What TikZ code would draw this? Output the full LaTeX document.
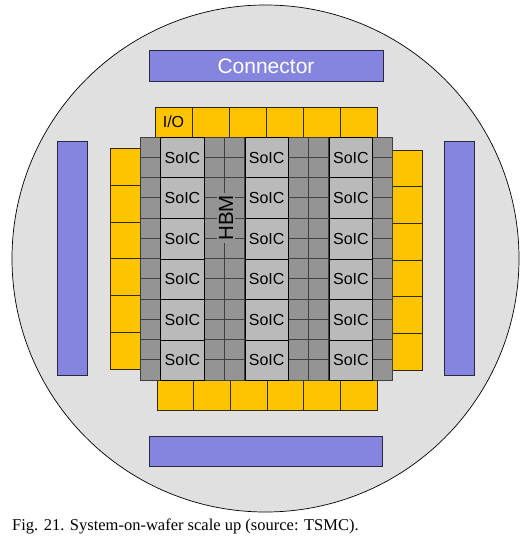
\documentclass[tikz,border=0pt]{standalone}
\usepackage{fontspec}
\setmainfont{Liberation Serif}
\newfontfamily\labelfont{Liberation Sans}
\usetikzlibrary{positioning}
\definecolor{waferbg}{RGB}{224,224,224}
\definecolor{barblue}{RGB}{133,133,224}
\definecolor{iogold}{RGB}{255,196,0}
\definecolor{hbmgray}{RGB}{148,148,148}
\definecolor{soicgray}{RGB}{186,186,186}

\begin{document}
\begin{tikzpicture}[x=1pt, y=-1pt,
    bar/.style={draw=black!70!barblue, line width=0.8pt, fill=barblue, inner sep=0pt},
    iocell/.style={draw=black!80!iogold, line width=0.8pt, fill=iogold, inner sep=0pt},
    hbmcell/.style={draw=black!75, line width=0.7pt, fill=hbmgray},
    soic/.style={draw=black, line width=0.8pt, fill=soicgray, minimum width=43.6pt, minimum height=40.5pt, inner sep=0pt, font=\labelfont\fontsize{16}{19}\selectfont}]
    \useasboundingbox (0,0) rectangle (526,537);

    % Wafer
    \node[draw, circle, fill=waferbg, line width=0.7pt, minimum size=507pt, inner sep=0pt] (wafer) at (265.5,258.5) {};

    % Connectors
    \node[bar, minimum width=234pt, minimum height=30.3pt, text=white, font=\labelfont\fontsize{21}{25}\selectfont] (conntop) at (266,65.85) {Connector};
    \node[bar, minimum width=233.3pt, minimum height=30.7pt] (connbottom) at (265.7,451.3) {};
    \node[bar, minimum width=30pt, minimum height=234pt] (connleft) at (72.7,258.7) {};
    \node[bar, minimum width=30pt, minimum height=234pt] (connright) at (459,258.7) {};

    % I/O cells
    \foreach \i in {0,...,5} {
        \node[iocell, minimum width=37pt, minimum height=30pt] (iotop\i) at (173.5+37*\i,122) {};
        \node[iocell, minimum width=36.7pt, minimum height=30pt] (iobot\i) at (175.3+36.7*\i,395.7) {};
        \node[iocell, minimum width=30pt, minimum height=36.8pt] (ioleft\i) at (125,166.7+36.8*\i) {};
        \node[iocell, minimum width=30pt, minimum height=36.7pt] (ioright\i) at (407.5,168.3+36.7*\i) {};
    }
    \node[font=\labelfont\fontsize{16}{19}\selectfont] (iolabel) at (iotop0) {I/O};

    % HBM stacks
    \foreach \x in {140,203.9,224.2,288.1,308.4,372.3}
        \foreach \j in {0,...,11}
            \draw[hbmcell] (\x,137+20.25*\j) rectangle ++(20.3,20.25);

    % SoIC dies
    \foreach \c [count=\k] in {160.3,244.5,328.7}
        \foreach \r in {0,...,5}
            \node[soic, anchor=north west] (soic\k\r) at (\c,137+40.5*\r) {SoIC};

    % HBM label
    \node[fill=hbmgray, rotate=90, inner sep=2pt, font=\labelfont\fontsize{20.5}{24}\selectfont] (hbm) at (226,218) {HBM};

    % Caption
    \node[anchor=base west, inner sep=0pt, font=\fontsize{16.5}{20}\selectfont] (caption) at (12,530) {Fig. 21. System-on-wafer scale up (source: TSMC).};
\end{tikzpicture}
\end{document}
